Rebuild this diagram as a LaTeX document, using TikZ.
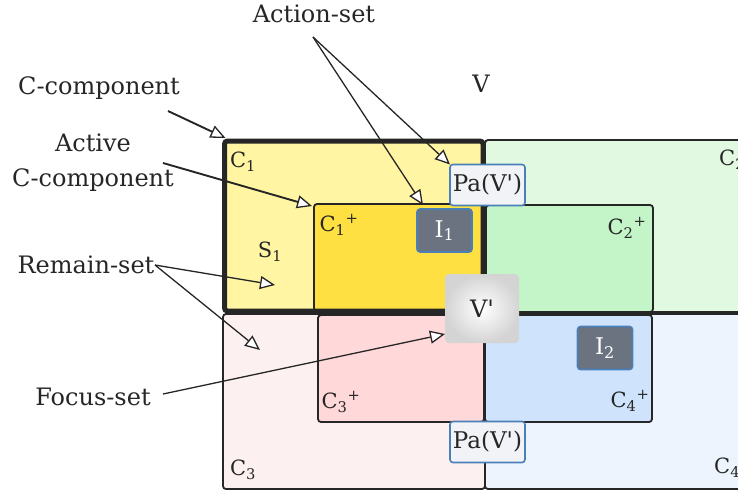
\documentclass[tikz,border=0pt]{standalone}
\usepackage{fontspec}
\setmainfont{DejaVu Serif}
\usetikzlibrary{arrows.meta}
\definecolor{ink}{HTML}{262626}
\definecolor{c1fill}{RGB}{255,245,162}
\definecolor{c1plus}{RGB}{255,224,66}
\definecolor{c2fill}{RGB}{225,249,225}
\definecolor{c2plus}{RGB}{196,245,200}
\definecolor{c3fill}{RGB}{253,240,240}
\definecolor{c3plus}{RGB}{255,216,218}
\definecolor{c4fill}{RGB}{237,244,254}
\definecolor{c4plus}{RGB}{207,227,253}
\definecolor{ibox}{RGB}{107,114,128}
\definecolor{iborder}{RGB}{74,128,184}
\definecolor{pafill}{RGB}{241,243,246}
\newcommand{\vq}{V\textquotesingle}
\begin{document}
\begin{tikzpicture}[x=1pt,y=-1pt,
  cbox/.style={draw=ink, line width=1.8pt, rounded corners=3pt, inner sep=0pt, outer sep=0pt, anchor=north west},
  pabox/.style={draw=iborder, line width=1.6pt, fill=pafill, rounded corners=3pt, inner sep=0pt, outer sep=0pt, minimum width=75pt, minimum height=41pt, text=ink, font=\fontsize{23}{26}\selectfont},
  ibx/.style={draw=iborder, line width=1.6pt, fill=ibox, rounded corners=3pt, inner sep=0pt, outer sep=0pt, minimum width=55pt, minimum height=43pt, text=white, font=\fontsize{23}{26}\selectfont},
  lbl/.style={text=ink, inner sep=0pt, font=\fontsize{24}{35}\selectfont, align=center},
  clbl/.style={text=ink, inner sep=0pt, font=\fontsize{21}{24}\selectfont},
  arr/.style={draw=ink, line width=1.3pt, -{Triangle[length=15pt,width=13pt,fill=white,line width=1.3pt]}},
  arrthick/.style={arr, line width=1.9pt}
]
\useasboundingbox (0,0) rectangle (738,491);
% outer components
\node[cbox, fill=c2fill, minimum width=265pt, minimum height=172pt] (c2) at (485,140) {};
\node[cbox, fill=c3fill, minimum width=262pt, minimum height=175pt] (c3) at (223,314) {};
\node[cbox, fill=c4fill, minimum width=265pt, minimum height=175pt] (c4) at (485,314) {};
\node[cbox, draw=none, fill=c1fill, minimum width=258.5pt, minimum height=170pt] (c1) at (224.5,141) {};
% inner components
\node[cbox, fill=c1plus, minimum width=169pt, minimum height=107pt] (c1p) at (314,204) {};
\node[cbox, fill=c2plus, minimum width=167pt, minimum height=107pt] (c2p) at (486,205) {};
\node[cbox, fill=c3plus, minimum width=166pt, minimum height=107pt] (c3p) at (318,315) {};
\node[cbox, fill=c4plus, minimum width=167pt, minimum height=107pt] (c4p) at (485,315) {};
% thick border of C1
\draw[ink, line width=5pt, rounded corners=3pt] (c1.north west) rectangle (c1.south east);
% labels of components
\node[clbl] (lc1) at (243,162) {C\textsubscript{1}};
\node[clbl, anchor=west] (lc2) at (719,160) {C\textsubscript{2}};
\node[clbl] (ls1) at (270,252) {S\textsubscript{1}};
\node[clbl] (lc1p) at (339,225) {C\textsubscript{1}\textsuperscript{+}};
\node[clbl] (lc2p) at (627,228) {C\textsubscript{2}\textsuperscript{+}};
\node[clbl] (lc3p) at (341,402) {C\textsubscript{3}\textsuperscript{+}};
\node[clbl] (lc4p) at (630,401) {C\textsubscript{4}\textsuperscript{+}};
\node[clbl] (lc3) at (243,470) {C\textsubscript{3}};
\node[clbl, anchor=west] (lc4) at (714,468) {C\textsubscript{4}};
% special boxes
\node[pabox] (pa1) at (487.5,185) {Pa(\vq)};
\node[pabox] (pa2) at (487.5,442) {Pa(\vq)};
\node[ibx] (i1) at (444.5,230.5) {I\textsubscript{1}};
\node[ibx] (i2) at (605,348) {I\textsubscript{2}};
\node[rounded corners=4pt, inner sep=0pt, outer sep=0pt, minimum width=74pt, minimum height=69pt, shading=radial, inner color=white, outer color=black!17, text=ink, font=\fontsize{24}{28}\selectfont] (vp) at (482,308.5) {\vq};
% free labels
\node[lbl] (lv) at (481,84) {V};
\node[lbl] (actionset) at (314,14) {Action-set};
\node[lbl] (ccomp) at (99,88) {C-component};
\node[lbl] (active) at (93,163) {Active\\C-component};
\node[lbl] (remain) at (86,265) {Remain-set};
\node[lbl] (focus) at (93,397) {Focus-set};
% connector points
\coordinate (asfrom) at (313,37);
\coordinate (ccfrom) at (168,111);
\coordinate (acfrom) at (163,163);
\coordinate (rsfrom) at (155,265);
\coordinate (fsfrom) at (163,394);
\coordinate (s1pt) at (275,285);
\coordinate (c3pt) at (260,350);
% connectors
\draw[arr] (asfrom) -- (pa1.north west);
\draw[arr] (asfrom) -- ([shift={(6,-4)}]i1.north west);
\draw[arrthick] (ccfrom) -- ([shift={(1,-3)}]c1.north west);
\draw[arrthick] (acfrom) -- ([shift={(-2,2)}]c1p.north west);
\draw[arr] (rsfrom) -- (s1pt);
\draw[arr] (rsfrom) -- (c3pt);
\draw[arr] (fsfrom) -- ([shift={(0,-9)}]vp.south west);
\end{tikzpicture}
\end{document}
